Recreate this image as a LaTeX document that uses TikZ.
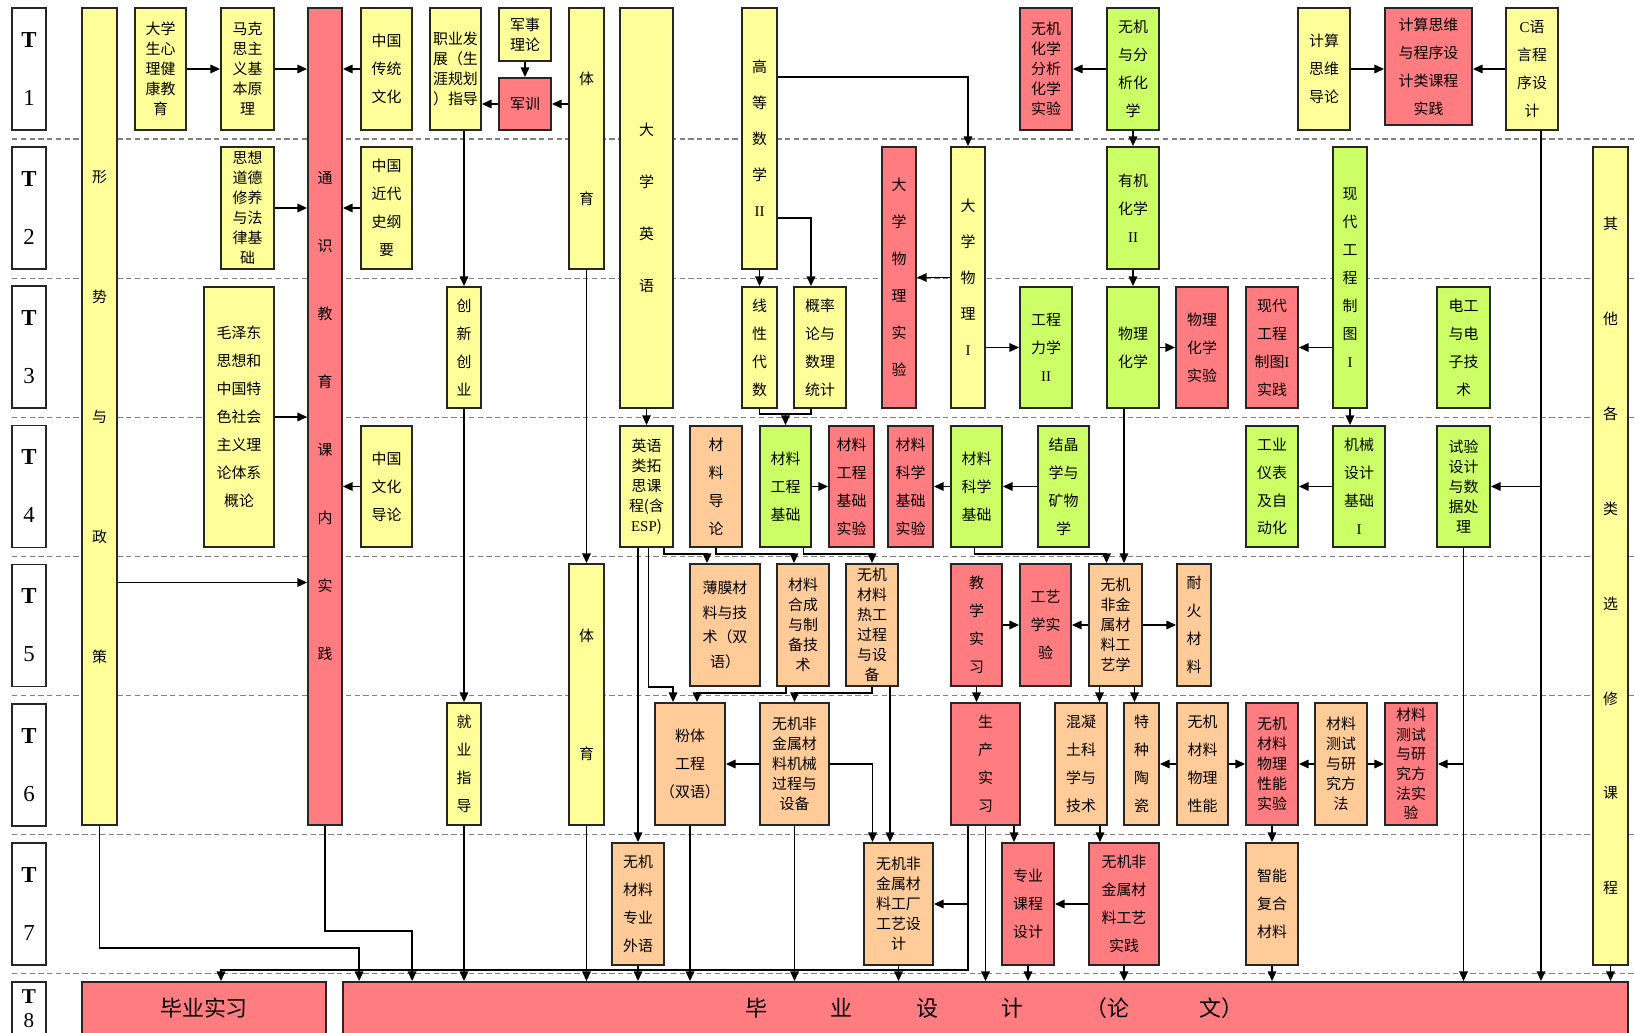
\documentclass[tikz,border=0pt]{standalone}
\usepackage{fontspec}
\setmainfont{Noto Sans CJK SC}
\newfontfamily\rmlat{Liberation Serif}
\usetikzlibrary{arrows.meta,positioning,calc,fit}
\definecolor{cyel}{HTML}{FFFF99}
\definecolor{cred}{HTML}{FF7C80}
\definecolor{cgrn}{HTML}{CCFF66}
\definecolor{corg}{HTML}{FFCC99}

\begin{document}
\begin{tikzpicture}[x=0.02cm, y=-0.02cm, >={Triangle[length=5.5pt,width=4.8pt]},
  course/.style={draw=black!85, line width=1pt, inner sep=0pt},
  txt/.style={align=center, inner sep=0pt, font=\fontsize{8.5}{#1}\selectfont},
  txt/.default=15.9pt,
  big/.style={inner sep=0pt, font=\fontsize{12.5}{15}\selectfont},
  tlab/.style 2 args={align=center, inner sep=0pt, font=\rmlat\fontsize{#1}{#2}\selectfont},
  ybox/.style={course, fill=cyel},
  rbox/.style={course, fill=cred},
  gbox/.style={course, fill=cgrn},
  obox/.style={course, fill=corg},
  tbox/.style={course, fill=white},
  link/.style={->, line width=1pt},
  sep/.style={draw=gray, line width=0.6pt, dash pattern=on 3pt off 2pt}]
  \useasboundingbox (0,0) rectangle (1635,1033);

  \foreach \r in {1,...,7}
    \draw[sep] (12,{139+139.14*(\r-1)}) -- (1635,{139+139.14*(\r-1)});
  \foreach \r [evaluate=\r as \ya using 8+139.14*(\r-1), evaluate=\r as \yb using 130+139.14*(\r-1)] in {1,...,7}
    \node[tbox, fit={(12,\ya) (46,\yb)}, label={[tlab={13}{33}]center:{\textbf{T}\\\r}}] (T\r) {};
  \node[tbox, fit={(12,982) (46,1035)}, label={[tlab={12}{14}]center:{\textbf{T}\\8}}] (T8) {};

  \node[ybox, fit={(82,8) (117,825)}, label={[txt=68.3pt]center:{形\\势\\与\\政\\策}}] (xszc) {};
  \node[ybox, fit={(135,8) (186,130)}, label={[txt=11.4pt]center:{大学\\生心\\理健\\康教\\育}}] (xlj) {};
  \node[ybox, fit={(221,8) (274,130)}, label={[txt=11.4pt]center:{马克\\思主\\义基\\本原\\理}}] (mks) {};
  \node[rbox, fit={(308,8) (342,825)}, label={[txt=38.7pt]center:{通\\识\\教\\育\\课\\内\\实\\践}}] (tsjy) {};
  \node[ybox, fit={(361,8) (412,130)}, label={[txt]center:{中国\\传统\\文化}}] (ctwh) {};
  \node[ybox, fit={(430,8) (481,130)}, label={[txt=11.4pt]center:{职业发\\展（生\\涯规划\\）指导}}] (zyfz) {};
  \node[ybox, fit={(499,8) (551,61)}, label={[txt=11.4pt]center:{军事\\理论}}] (jsll) {};
  \node[rbox, fit={(499,78) (551,130)}, label={[txt]center:{军训}}] (jx) {};
  \node[ybox, fit={(569,8) (604,269)}, label={[txt=68.3pt]center:{体\\育}}] (ty1) {};
  \node[ybox, fit={(620,8) (673,408)}, label={[txt=29.6pt]center:{大\\学\\英\\语}}] (dxyy) {};
  \node[ybox, fit={(742,8) (777,269)}, label={[txt=20.5pt]center:{高\\等\\数\\学\\{\rmlat II}}}] (gdsx) {};
  \node[rbox, fit={(1020,8) (1072,130)}, label={[txt=11.4pt]center:{无机\\化学\\分析\\化学\\实验}}] (wjsy) {};
  \node[gbox, fit={(1107,8) (1159,130)}, label={[txt]center:{无机\\与分\\析化\\学}}] (wjfx) {};
  \node[ybox, fit={(1298,8) (1350,130)}, label={[txt]center:{计算\\思维\\导论}}] (jssw) {};
  \node[rbox, fit={(1385,8) (1472,125)}, label={[txt]center:{计算思维\\与程序设\\计类课程\\实践}}] (jssj) {};
  \node[ybox, fit={(1506,8) (1558,130)}, label={[txt]center:{{\rmlat C}语\\言程\\序设\\计}}] (cyy) {};

  \node[ybox, fit={(221,147) (274,269)}, label={[txt=11.4pt]center:{思想\\道德\\修养\\与法\\律基\\础}}] (sxdd) {};
  \node[ybox, fit={(361,147) (412,269)}, label={[txt]center:{中国\\近代\\史纲\\要}}] (jds) {};
  \node[rbox, fit={(882,147) (916,408)}, label={[txt=21pt]center:{大\\学\\物\\理\\实\\验}}] (dxwlsy) {};
  \node[ybox, fit={(951,147) (985,408)}, label={[txt=20.5pt]center:{大\\学\\物\\理\\{\rmlat I}}}] (dxwl) {};
  \node[gbox, fit={(1107,147) (1159,269)}, label={[txt]center:{有机\\化学\\{\rmlat II}}}] (yjhx) {};
  \node[gbox, fit={(1333,147) (1367,408)}, label={[txt]center:{现\\代\\工\\程\\制\\图\\{\rmlat I}}}] (xdzt) {};
  \node[ybox, fit={(1593,147) (1628,965)}, label={[txt=54pt]center:{其\\他\\各\\类\\选\\修\\课\\程}}] (qtxx) {};

  \node[ybox, fit={(204,287) (274,547)}, label={[txt]center:{毛泽东\\思想和\\中国特\\色社会\\主义理\\论体系\\概论}}] (mzd) {};
  \node[ybox, fit={(447,287) (481,408)}, label={[txt]center:{创\\新\\创\\业}}] (cxcy) {};
  \node[ybox, fit={(742,287) (777,408)}, label={[txt]center:{线\\性\\代\\数}}] (xxds) {};
  \node[ybox, fit={(794,287) (846,408)}, label={[txt]center:{概率\\论与\\数理\\统计}}] (gll) {};
  \node[gbox, fit={(1020,287) (1072,408)}, label={[txt]center:{工程\\力学\\{\rmlat II}}}] (gclx) {};
  \node[gbox, fit={(1107,287) (1159,408)}, label={[txt]center:{物理\\化学}}] (wlhx) {};
  \node[rbox, fit={(1176,287) (1228,408)}, label={[txt]center:{物理\\化学\\实验}}] (wlhxsy) {};
  \node[rbox, fit={(1246,287) (1298,408)}, label={[txt]center:{现代\\工程\\制图{\rmlat I}\\实践}}] (ztsj) {};
  \node[gbox, fit={(1437,287) (1490,408)}, label={[txt]center:{电工\\与电\\子技\\术}}] (dgdz) {};

  \node[ybox, fit={(361,426) (412,547)}, label={[txt]center:{中国\\文化\\导论}}] (zgwh) {};
  \node[ybox, fit={(620,426) (673,547)}, label={[txt=11.4pt]center:{英语\\类拓\\思课\\程(含\\{\rmlat ESP})}}] (yylt) {};
  \node[obox, fit={(690,426) (742,547)}, label={[txt]center:{材\\料\\导\\论}}] (cldl) {};
  \node[gbox, fit={(760,426) (811,547)}, label={[txt]center:{材料\\工程\\基础}}] (clgc) {};
  \node[rbox, fit={(829,426) (874,547)}, label={[txt]center:{材料\\工程\\基础\\实验}}] (clgcsy) {};
  \node[rbox, fit={(888,426) (933,547)}, label={[txt]center:{材料\\科学\\基础\\实验}}] (clkxsy) {};
  \node[gbox, fit={(951,426) (1002,547)}, label={[txt]center:{材料\\科学\\基础}}] (clkx) {};
  \node[gbox, fit={(1038,426) (1089,547)}, label={[txt]center:{结晶\\学与\\矿物\\学}}] (jjx) {};
  \node[gbox, fit={(1246,426) (1298,547)}, label={[txt]center:{工业\\仪表\\及自\\动化}}] (gyyb) {};
  \node[gbox, fit={(1333,426) (1385,547)}, label={[txt]center:{机械\\设计\\基础\\{\rmlat I}}}] (jxsj) {};
  \node[gbox, fit={(1437,426) (1490,547)}, label={[txt=11.4pt]center:{试验\\设计\\与数\\据处\\理}}] (sysj) {};

  \node[ybox, fit={(569,564) (604,825)}, label={[txt=67pt]center:{体\\育}}] (ty2) {};
  \node[obox, fit={(690,564) (760,686)}, label={[txt=14pt]center:{薄膜材\\料与技\\术（双\\语）}}] (bmcl) {};
  \node[obox, fit={(777,564) (829,686)}, label={[txt=11.4pt]center:{材料\\合成\\与制\\备技\\术}}] (clhc) {};
  \node[obox, fit={(846,564) (898,686)}, label={[txt=11.4pt]center:{无机\\材料\\热工\\过程\\与设\\备}}] (rggc) {};
  \node[rbox, fit={(951,564) (1002,686)}, label={[txt]center:{教\\学\\实\\习}}] (jxsx) {};
  \node[rbox, fit={(1020,564) (1071,686)}, label={[txt]center:{工艺\\学实\\验}}] (gyxsy) {};
  \node[obox, fit={(1089,564) (1142,686)}, label={[txt=11.4pt]center:{无机\\非金\\属材\\料工\\艺学}}] (gyx) {};
  \node[obox, fit={(1177,564) (1211,686)}, label={[txt]center:{耐\\火\\材\\料}}] (nhcl) {};

  \node[ybox, fit={(447,703) (481,825)}, label={[txt]center:{就\\业\\指\\导}}] (jyzd) {};
  \node[obox, fit={(655,703) (725,825)}, label={[txt]center:{粉体\\工程\\（双语）}}] (ftgc) {};
  \node[obox, fit={(760,703) (829,825)}, label={[txt=11.4pt]center:{无机非\\金属材\\料机械\\过程与\\设备}}] (jxgc) {};
  \node[rbox, fit={(951,703) (1020,825)}, label={[txt]center:{生\\产\\实\\习}}] (scsx) {};
  \node[obox, fit={(1055,703) (1107,825)}, label={[txt]center:{混凝\\土科\\学与\\技术}}] (hnt) {};
  \node[obox, fit={(1124,703) (1159,825)}, label={[txt]center:{特\\种\\陶\\瓷}}] (tztc) {};
  \node[obox, fit={(1177,703) (1228,825)}, label={[txt]center:{无机\\材料\\物理\\性能}}] (wlxn) {};
  \node[rbox, fit={(1246,703) (1298,825)}, label={[txt=11.4pt]center:{无机\\材料\\物理\\性能\\实验}}] (wlxnsy) {};
  \node[obox, fit={(1315,703) (1367,825)}, label={[txt=11.4pt]center:{材料\\测试\\与研\\究方\\法}}] (csff) {};
  \node[rbox, fit={(1385,703) (1437,825)}, label={[txt=11.2pt]center:{材料\\测试\\与研\\究方\\法实\\验}}] (csffsy) {};

  \node[obox, fit={(612,843) (664,965)}, label={[txt]center:{无机\\材料\\专业\\外语}}] (zywy) {};
  \node[obox, fit={(864,843) (933,965)}, label={[txt=11.4pt]center:{无机非\\金属材\\料工厂\\工艺设\\计}}] (gcsj) {};
  \node[rbox, fit={(1002,843) (1054,965)}, label={[txt]center:{专业\\课程\\设计}}] (kcsj) {};
  \node[rbox, fit={(1089,843) (1159,965)}, label={[txt]center:{无机非\\金属材\\料工艺\\实践}}] (gysj) {};
  \node[obox, fit={(1246,843) (1298,965)}, label={[txt]center:{智能\\复合\\材料}}] (znfh) {};

  \node[rbox, fit={(82,982) (326,1035)}, label={[big]center:{毕业实习}}] (bysx) {};
  \node[rbox, fit={(343,982) (1628,1035)}, label={[big, xshift=5pt]center:{毕\hspace{2.9em}业\hspace{2.9em}设\hspace{2.9em}计\hspace{2.8em}（论\hspace{3.2em}文）}}] (bysj) {};

  \coordinate (cline) at ($(cyy.south)+(9,0)$);
  \coordinate (jn) at ($(xxds.south)+(0,5)$);
  \coordinate (wl) at ($(wlhx.south)+(-9,0)$);
  \coordinate (xs) at ($(xszc.east)+(0,166)$);
  \coordinate (rg) at ($(rggc.south)+(18,0)$);
  \coordinate (gx1) at ($(gyx.south)+(-16,0)$);
  \coordinate (gx2) at ($(gyx.south)+(19,0)$);
  \coordinate (hn) at ($(hnt.south)+(19,0)$);
  \coordinate (sc1) at ($(scsx.south)+(-17.5,0)$);
  \coordinate (sc3) at ($(scsx.south)+(28.5,0)$);

  \draw[link] (xlj) -- (mks);
  \draw[link] (mks) -- (mks -| tsjy.west);
  \draw[link] (ctwh) -- (ctwh -| tsjy.east);
  \draw[link] (jsll) -- (jx);
  \draw[link] (jx) -- (jx -| zyfz.east);
  \draw[link] (jx -| ty1.west) -- (jx);
  \draw[link] (cxcy |- zyfz.south) -- (cxcy);
  \draw[link] ($(gdsx.north east)+(0,70)$) -| (dxwl);
  \draw[link] (wjfx) -- (wjsy);
  \draw[link] (wjfx) -- (yjhx);
  \draw[link] (jssw) -- (jssw -| jssj.west);
  \draw[link] (cyy) -- (cyy -| jssj.east);
  \draw[link] (cline) -- (cline |- bysj.north);
  \draw[link] (cline |- sysj) -- (sysj);

  \draw[link] (sxdd) -- (sxdd -| tsjy.west);
  \draw[link] (jds) -- (jds -| tsjy.east);
  \draw[link] ($(gdsx.south east)+(0,-52)$) -| ($(gll.north)+(-9,0)$);
  \draw[link] (gdsx) -- (xxds);
  \draw[link] (yjhx) -- (wlhx);
  \draw[link] (dxwl) -- (dxwlsy);
  \draw[link] (ty1) -- (ty2);
  \draw[link] (ztsj -| xdzt.west) -- (ztsj);
  \draw[link] (xdzt) -- (xdzt |- jxsj.north);
  \draw[link] (qtxx) -- (qtxx |- bysj.north);

  \draw[link] (mzd) -- (mzd -| tsjy.west);
  \draw[link] (dxyy) -- (yylt);
  \draw[line width=1pt] (xxds.south) -- (jn) -| ($(gll.south)+(-9,0)$);
  \draw[link] (clgc |- jn) -- (clgc);
  \draw[link] (gclx -| dxwl.east) -- (gclx);
  \draw[link] (wlhx) -- (wlhxsy);
  \draw[link] (wl) -- (wl |- gyx.north);
  \draw[link] (cxcy) -- (jyzd);

  \draw[link] (zgwh) -- (zgwh -| tsjy.east);
  \draw[link] (clgc) -- (clgcsy);
  \draw[link] (clkx) -- (clkxsy);
  \draw[link] (jjx) -- (clkx);
  \draw[link] (jxsj) -- (gyyb);
  \draw[link] ($(yylt.south east)+(-10,0)$) -- ++(0,6) -| ($(bmcl.north)+(-18,0)$);
  \draw[link] (cldl.south) -- ++(0,6) -| ($(clhc.north)+(-9,0)$);
  \draw[link] ($(clgc.south)+(18,0)$) -- ++(0,6) -| (rggc.north);
  \draw[link] ($(clkx.south)+(-2,0)$) -- ++(0,6) -| ($(gyx.north)+(-9,0)$);
  \draw[link] ($(yylt.south)+(2,0)$) -- ++(0,139) -| ($(ftgc.north)+(-17,0)$);
  \draw[link] (zywy |- yylt.south) -- (zywy);
  \draw[link] (xs) -- (xs -| tsjy.west);

  \draw[link] ($(clhc.south)+(-17,0)$) -- ++(0,6) -| ($(ftgc.north)+(7,0)$);
  \draw[link] (rggc.south) -- ++(0,6) -| (jxgc.north);
  \draw[link] (rg) -- (rg |- gcsj.north);
  \draw[link] (jxsx) -- (gyxsy);
  \draw[link] (gyx) -- (gyxsy);
  \draw[link] (gyx) -- (nhcl);
  \draw[link] (jxsx) -- (jxsx |- scsx.north);
  \draw[link] (gx1) -- (gx1 |- hnt.north);
  \draw[link] (gx2) -- (gx2 |- tztc.north);

  \draw[link] (jxgc) -- (ftgc);
  \draw[link] (jxgc) -| ($(gcsj.north)+(-26,0)$);
  \draw[link] (wlxn) -- (tztc);
  \draw[link] (wlxn) -- (wlxnsy);
  \draw[link] (csff) -- (wlxnsy);
  \draw[link] (csff) -- (csffsy);
  \draw[link] (sysj) |- (csffsy);
  \draw[link] (sysj) -- (sysj |- bysj.north);
  \draw[link] (wlxnsy) -- (znfh);
  \draw[link] (hn) -- (hn |- gysj.north);
  \draw[link] (sc1) |- (gcsj);
  \draw[link] (sc1) -- ++(0,144) -| ($(bysx.north)+(17,0)$);
  \draw[link] (scsx) -- (scsx |- bysj.north);
  \draw[link] (sc3) -- (sc3 |- kcsj.north);

  \draw[link] (gysj) -- (kcsj);
  \draw[link] (gysj) -- (gysj |- bysj.north);
  \draw[link] (kcsj) -- (kcsj |- bysj.north);
  \draw[link] (gcsj) -- (gcsj |- bysj.north);
  \draw[link] (znfh) -- (znfh |- bysj.north);
  \draw[link] (zywy) -- (zywy |- bysj.north);
  \draw[link] (ftgc) -- (ftgc |- bysj.north);
  \draw[link] (jxgc) -- (jxgc |- bysj.north);
  \draw[link] (ty2) -- (ty2 |- bysj.north);
  \draw[link] (jyzd) -- (jyzd |- bysj.north);
  \draw[link] (xszc.south) -- ++(0,122) -| ($(bysj.north west)+(17,0)$);
  \draw[link] (tsjy.south) -- ++(0,105) -| ($(bysj.north west)+(70,0)$);
\end{tikzpicture}
\end{document}
